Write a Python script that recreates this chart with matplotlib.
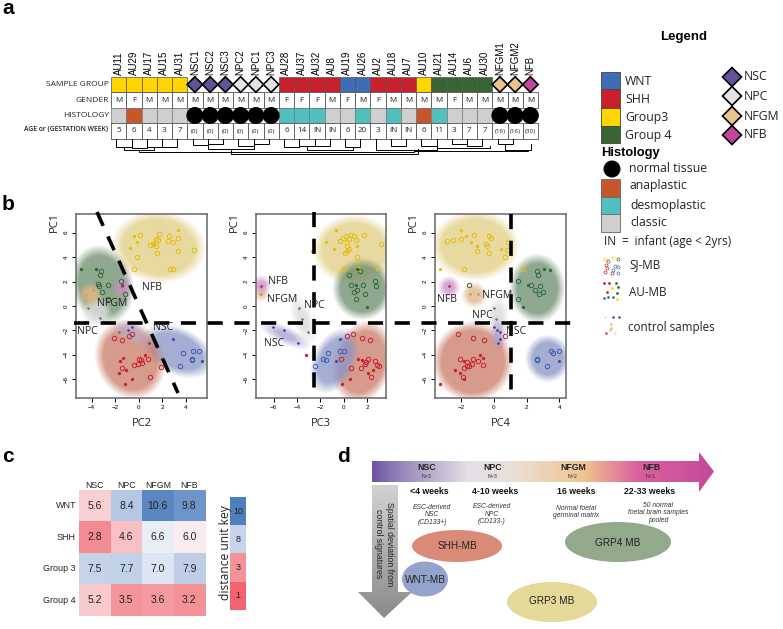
import matplotlib

matplotlib.use("Agg")
import matplotlib.pyplot as plt
import numpy as np
from matplotlib.colors import LinearSegmentedColormap, Normalize, to_rgb
from matplotlib.patches import Circle, Ellipse, Polygon, Rectangle

W, H = 783, 629
SANS = "Open Sans"
ARIAL = "Liberation Sans"

WNT = "#3F6DB5"
SHH = "#C9202E"
G3 = "#FFD500"
G4 = "#376533"
NSC = "#64519A"
NPC = "#E4E2E8"
NFGM = "#E8C38E"
NFB = "#C3469E"
GROUP_COLORS = {"W": WNT, "S": SHH, "3": G3, "4": G4, "nsc": NSC, "npc": NPC, "gm": NFGM, "fb": NFB}
HIST_COLORS = {"a": "#C8562A", "d": "#52BFBF", "c": "#CFCFCF"}

# panel a
samples = ["AU11", "AU29", "AU17", "AU15", "AU31", "NSC1", "NSC2", "NSC3", "NPC2", "NPC1", "NPC3",
           "AU28", "AU37", "AU32", "AU8", "AU19", "AU26", "AU2", "AU18", "AU7", "AU10", "AU21",
           "AU14", "AU6", "AU30", "NFGM1", "NFGM2", "NFB"]
groups = ["3", "3", "3", "3", "3", "nsc", "nsc", "nsc", "npc", "npc", "npc",
          "S", "S", "S", "S", "W", "W", "S", "S", "S", "3", "4", "4", "4", "4", "gm", "gm", "fb"]
genders = list("MFMMMMMMMMMFFFMFMFMMMMFMMMMM")
histology = ["c", "a", "c", "c", "c", "n", "n", "n", "n", "n", "n",
             "d", "d", "d", "c", "c", "d", "c", "d", "c", "a", "d", "c", "c", "c", "n", "n", "n"]
ages = ["5", "6", "4", "3", "7", "(0)", "(0)", "(0)", "(0)", "(0)", "(0)",
        "6", "14", "IN", "IN", "6", "20", "3", "IN", "IN", "6", "11", "3", "7", "7", "(16)", "(16)", "(30)"]
# left column, right column, bottom of the legs, height of the join
tree = [(0, 1, 139, 147), (1, 2, 139, 148), (2, 3, 139, 147), (3, 4, 139, 147),
        (0.5, 2.5, 148, 150), (1.5, 19.5, 150, 152),
        (5, 6, 139, 145), (6, 7, 139, 144), (8, 9, 139, 146), (9, 10, 139, 144),
        (6, 9, 146, 149), (7.5, 19.8, 149, 154),
        (11, 12, 139, 147), (12, 13, 139, 146), (13, 14, 139, 146), (15, 16, 139, 147),
        (12.5, 15.5, 147, 150), (17, 21, 139, 150), (18, 19, 139, 146),
        (20, 21, 139, 146), (21, 24.5, 146, 148), (22, 23, 139, 144), (23, 24, 139, 146),
        (19.5, 27, 150, 151), (25, 26, 139, 144), (25.5, 27.2, 144, 150)]

# panel b: x values for PC2, PC3, PC4 and shared-style PC1 values
sj_wnt = {"pc2": [3.8, 4.6, 5.1, 4.5, 4.55, 3.5], "pc3": [-1.35, -0.3, 0, -1.8, -1.55, -2.45],
          "pc4": [3.6, 3.5, 4.0, 2.6, 2.65, 3.25], "pc1": [-3.85, -3.65, -3.7, -4.3, -4.45, -4.9]}
au_wnt = {"pc2": [2.9, 5.35], "pc3": [-0.35, -0.7], "pc4": [0.35, 4.0], "pc1": [-2.7, -4.5]}
sj_shh = [
    ([-2.1, -1.4, -0.85, -0.55, 0.05, 0.2, -0.1, -0.4, 0.25, -1.45, 0.75, 0.95, 1.9],
     [-2.6, -2.8, -2.45, -2.3, -4.35, -4.45, -4.75, -4.8, -4.7, -5.05, -4.35, -5.8, -5.0]),
    ([0.8, 0.3, 1.55, 2.2, -0.25, 2.1, 1.9, 1.8, 2.7, 2.85, 3.0, 0.65, 1.5, 2.35],
     [-2.3, -2.45, -2.6, -2.8, -4.35, -4.35, -4.55, -4.75, -4.5, -4.8, -4.9, -5.05, -5.1, -5.8]),
    ([-2.2, -1.3, -0.6, 0.7, -2.05, -1.65, -1.3, -0.95, -1.85, -1.5, -1.65, -1.35, -0.65, -1.9],
     [-2.3, -2.6, -2.8, -2.45, -4.35, -4.6, -4.35, -4.5, -5.1, -4.95, -4.9, -4.75, -4.8, -5.8]),
]
au_shh = [
    ([-1.35, -1.6, -1.1, -1.7, -0.55, -1.15, 0.55], [-4.25, -4.5, -5.2, -5.45, -5.95, -6.4, -4.0]),
    ([-3.2, 1.25, 1.55, 2.1, 2.45, 0.5, -0.15], [-4.0, -4.3, -4.45, -5.45, -5.2, -5.95, -6.4]),
    ([-0.85, -0.65, -1.85, -2.4, -2.1, -1.8, -3.3], [-4.0, -4.25, -4.5, -5.2, -5.45, -5.95, -6.4]),
]
sj_g3 = [
    ([0.1, 1.7, 2.6, 3.3, 1.45, 1.65, 2.5, 2.9, 1.2, 0.95, 1.5, 3.3, 4.7, 1.55, -0.15, -0.4, 2.65, 2.9],
     [5.8, 5.9, 5.7, 5.6, 5.45, 5.4, 5.3, 5.2, 5.05, 5.0, 4.9, 4.5, 4.6, 4.35, 4.05, 3.0, 3.0, 3.05]),
    ([-0.35, -0.1, 0.15, 0.65, 0.85, 1.75, 0.4, 1.0, 0.3, 0.25, 0.4, 0.3, 0.1, 1.1, 3.15, 0, 1.2],
     [5.3, 5.55, 5.7, 5.85, 5.75, 5.8, 5.45, 5.4, 5.2, 4.95, 4.65, 4.5, 4.35, 4.05, 5.05, 3.05, 3.0]),
    ([-2.85, -2.5, -2.0, -1.2, -0.3, -0.15, -0.5, -0.4, -1.05, -0.3, 0.85, 0.8, 0.7, -1.85, 1.8],
     [5.3, 5.4, 5.45, 5.8, 5.7, 5.6, 5.1, 4.95, 4.5, 4.35, 5.25, 4.6, 4.05, 3.05, 3.0]),
]
au_g3 = [
    ([-0.4, 3.35, -0.15, -0.75, 1.3], [5.75, 6.2, 5.25, 4.75, 5.05]),
    ([-0.7, -1.5, -0.85, 1.15, -2.7, 2.8], [6.2, 5.25, 4.7, 4.95, 4.5, 3.0]),
    ([-2.0, -1.7, -1.4, -1.05, 0.45, -3.3], [6.2, 5.75, 5.25, 4.95, 4.7, 3.0]),
]
sj_g4 = [
    ([-3.2, -3.3, -3.5, -3.4, -2.6, -3.15, -1.5, -1.2, -2.65],
     [2.9, 2.55, 1.8, 1.6, 1.7, 1.15, 2.05, 0.95, 0.6]),
    ([0.45, 1.4, 0.65, 1.6, 1.1, 0.9, 2.7, 2.75, 1.8, 1.05],
     [2.55, 2.9, 1.7, 1.75, 1.3, 1.15, 2.05, 1.6, 0.95, 0.55]),
    ([2.6, 2.7, 1.45, 2.25, 2.8, 2.5, 3.0, 2.75, 1.45, -1.55],
     [2.9, 2.55, 2.05, 1.75, 1.6, 1.3, 1.15, 0.95, 0.55, 1.7]),
]
au_g4 = [
    ([-4.9, -3.6, -1.4], [3.0, 3.05, 1.75]),
    ([1.15, 1.05, 1.95], [3.0, 1.75, -0.1]),
    ([3.05, 3.4, 2.05, 1.8], [3.0, 2.95, 1.75, -0.1]),
]
ctrl_nsc = [
    ([-0.95, -0.6, 0.9], [-1.95, -1.75, -3.0]),
    ([-6.05, -5.15, -3.95], [-1.75, -1.95, -3.0]),
    ([0, 0.2, 0.25, 0.35], [-1.75, -1.95, -3.0, -2.1]),
]
ctrl_npc = [
    ([-3.3, -4.3, -1.7], [-1.0, -0.15, -2.1]),
    ([-3.85, -3.55, -3.1], [-0.15, -1.05, -2.1]),
    ([0, 0.1], [-0.15, -1.05]),
]
ctrl_gm = [([-4.45, -3.9], [0.9, 1.3]), ([-7.2, -7.05], [0.95, 1.0]), ([-1.45, -0.95], [0.95, 0.95])]
ctrl_fb = [([-1.4], [1.65]), ([-7.05], [1.65]), ([-2.75], [1.65])]
pc_names = ["PC2", "PC3", "PC4"]
pc_xticks = [[-4, -2, 0, 2, 4], [-6, -4, -2, 0, 2], [-2, 0, 2, 4]]
pc_xlims = [(-5.33, 5.8), (-7.5, 3.6), (-3.6, 4.4)]
pc_yticks = [-6, -4, -2, 0, 2, 4, 6]

# panel c
hm_cols = ["NSC", "NPC", "NFGM", "NFB"]
hm_rows = ["WNT", "SHH", "Group 3", "Group 4"]
hm_values = np.array([[5.6, 8.4, 10.6, 9.8],
                      [2.8, 4.6, 6.6, 6.0],
                      [7.5, 7.7, 7.0, 7.9],
                      [5.2, 3.5, 3.6, 3.2]])
key_values = [10, 8, 3, 1]
key_colors = ["#4F7FBF", "#C5D4EA", "#F4929A", "#F1636E"]

# panel d
stage_names = ["NSC", "NPC", "NFGM", "NFB"]
stage_counts = ["N=3", "N=3", "N=2", "N=1"]
stage_weeks = ["<4 weeks", "4-10 weeks", "16 weeks", "22-33 weeks"]
stage_notes = ["ESC-derived\nNSC\n(CD133+)", "ESC-derived\nNPC\n(CD133-)",
               "Normal foetal\ngerminal matrix", "50 normal\nfoetal brain samples\npooled"]

fig = plt.figure(figsize=(W / 100, H / 100), dpi=100, facecolor="white")


def px_axes(left, top, right, bottom, **kw):
    return fig.add_axes([left / W, 1 - bottom / H, (right - left) / W, (bottom - top) / H], **kw)


ov = fig.add_axes([0, 0, 1, 1], zorder=5)
ov.set_xlim(0, W)
ov.set_ylim(H, 0)
ov.axis("off")
ov.patch.set_alpha(0)


def label(x, y, s, size=7, family=SANS, ha="center", va="center", **kw):
    return ov.text(x, y, s, fontsize=size, family=family, ha=ha, va=va, **kw)


def diamond(x, y, r, color, lw=1.2):
    ov.add_patch(Polygon([(x - r, y), (x, y - r), (x + r, y), (x, y + r)], closed=True,
                         facecolor=color, edgecolor="black", lw=lw, zorder=3))


for txt, x, y in [("a", 8, 8), ("b", 8, 204), ("c", 8, 457), ("d", 344, 456)]:
    label(x, y, txt, size=15, family=ARIAL, weight="bold")

# panel a ------------------------------------------------------------------
X0, CW = 111, 15.25
ROWS = [77, 92, 108, 123, 139]
for name, y in zip(["SAMPLE GROUP", "GENDER", "HISTOLOGY"], [85, 100, 115.5]):
    label(109, y, name, size=6, ha="right", color="#222222")
label(108, 130, "AGE or (GESTATION WEEK)", size=4.9, ha="right", weight="semibold", color="#222222")

for i, name in enumerate(samples):
    x = X0 + CW * i
    cx = x + CW / 2
    label(cx, 75, name, size=7, family=ARIAL, rotation=90, va="bottom")
    if groups[i] in ("nsc", "npc", "gm", "fb"):
        diamond(cx, 84.5, 7.8, GROUP_COLORS[groups[i]])
    else:
        ov.add_patch(Rectangle((x, ROWS[0]), CW, ROWS[1] - ROWS[0], facecolor=GROUP_COLORS[groups[i]],
                               edgecolor="#555555", lw=0.5))
    ov.add_patch(Rectangle((x, ROWS[1]), CW, ROWS[2] - ROWS[1], facecolor="white", edgecolor="#555555", lw=0.6))
    label(cx, 100, genders[i], size=5.8, color="#222222")
    if histology[i] == "n":
        ov.add_patch(Circle((cx, 115.5), 7.8, color="black", zorder=3))
    else:
        ov.add_patch(Rectangle((x, ROWS[2]), CW, ROWS[3] - ROWS[2], facecolor=HIST_COLORS[histology[i]],
                               edgecolor="#777777", lw=0.5))
    ov.add_patch(Rectangle((x, ROWS[3]), CW, ROWS[4] - ROWS[3], facecolor="white", edgecolor="#555555", lw=0.6))
    label(cx, 131, ages[i], size=4.5 if "(" in ages[i] else 5.8, color="#222222")

for a, b, y0, y1 in tree:
    xa, xb = X0 + CW * (a + 0.35), X0 + CW * (b + 0.35)
    ov.plot([xa, xa, xb, xb], [y0, y1, y1, y0], color="black", lw=0.7, solid_joinstyle="miter")

# legend -------------------------------------------------------------------
label(684, 37, "Legend", size=9.5, family=ARIAL, weight="bold")
for name, color, top, bot in [("WNT", WNT, 72, 89), ("SHH", SHH, 89, 108), ("Group3", G3, 108, 126), ("Group 4", G4, 126, 143)]:
    ov.add_patch(Rectangle((601, top), 19, bot - top, facecolor=color, edgecolor="#444444", lw=0.6))
    label(625, (top + bot) / 2 + 1, name, size=8.8, ha="left", color="#222222")
for name, color, y in [("NSC", NSC, 77), ("NPC", NPC, 96), ("NFGM", NFGM, 116), ("NFB", NFB, 135)]:
    diamond(732, y, 9.5, color)
    label(744, y, name, size=8.8, ha="left", color="#222222")
label(601, 153, "Histology", size=9.4, family=ARIAL, weight="bold", ha="left")
ov.add_patch(Circle((612, 169), 7.8, color="black"))
label(629, 168, "normal tissue", size=8.8, ha="left", color="#222222")
for name, key, top, bot, ty in [("anaplastic", "a", 179, 197, 186), ("desmoplastic", "d", 197, 214, 205), ("classic", "c", 214, 232, 222)]:
    ov.add_patch(Rectangle((601, top), 19, bot - top, facecolor=HIST_COLORS[key], edgecolor="#666666", lw=0.6))
    label(630, ty, name, size=8.8, ha="left", color="#222222")
label(604, 242, "IN  =  infant (age < 2yrs)", size=8.4, ha="left", color="#222222")
label(629, 265, "SJ-MB", size=8.4, ha="left", color="#222222")
label(629, 292, "AU-MB", size=8.4, ha="left", color="#222222")
label(628, 327, "control samples", size=8.4, ha="left", color="#222222")

icon_sj = [(605, 259, G3), (608, 261, G4), (613, 258, G3), (618, 259, G4), (606, 265, SHH), (607, 268, SHH),
           (615, 266, WNT), (618, 267, WNT), (613, 270, WNT), (605, 272, SHH), (612, 273, SHH), (618, 273, WNT)]
icon_au = [(604, 283, SHH), (609, 283, SHH), (616, 283, G4), (618, 287, G4), (612, 288, G3), (607, 292, SHH),
           (617, 293, G4), (604, 298, WNT), (608, 297, WNT), (613, 297, WNT), (617, 299, G3)]
icon_ct = [(605, 317, NPC), (613, 317, NSC), (619, 317, NSC), (611, 324, NFGM), (611, 328, NFGM),
           (610, 330, NFGM), (606, 333, NFB), (615, 333, NPC)]
for x, y, c in icon_sj:
    ov.plot(x, y, "o", ms=2.2, mfc="none", mec=c, mew=0.5)
for x, y, c in icon_au:
    ov.plot(x, y, "o", ms=2, color=c, mew=0)
for x, y, c in icon_ct:
    ov.plot(x, y, "D", ms=1.7, color=c, mew=0)

# panel b ------------------------------------------------------------------
PANELS = [(76, 207), (256, 386), (435, 566)]
TOP, BOTTOM = 214, 398
YLIM = (-7.53, 7.53)
BLOB_RED = "#CB7F6B"
BLOB_BLUE = "#8B97C6"
BLOB_YEL = "#E2CF86"
BLOB_GRN = "#6F8F70"
# centre (data), width and height (px), angle, colour
blobs = [
    [(1.7, 4.85, 84, 64, -5, BLOB_YEL), (-3.1, 1.75, 54, 70, 15, BLOB_GRN), (3.3, -3.7, 66, 40, -25, BLOB_BLUE),
     (-0.75, -4.4, 60, 72, 25, BLOB_RED), (-0.6, -2.2, 28, 14, -30, "#B5AED3"), (-3.6, -0.5, 24, 24, 0, "#E0E0E0"),
     (-4.1, 0.95, 18, 18, 0, "#E5B985"), (-1.35, 1.5, 14, 18, 0, "#D08FC4")],
    [(0.9, 4.6, 74, 62, 0, BLOB_YEL), (1.6, 1.4, 52, 54, 0, BLOB_GRN), (1.6, -4.6, 52, 74, -15, BLOB_RED),
     (-0.8, -4.5, 36, 58, -25, BLOB_BLUE), (-5.0, -2.4, 38, 12, -25, "#A9A0CE"), (-3.5, -1.1, 14, 38, 20, "#D9D9D9"),
     (-7.05, 1.0, 10, 10, 0, "#E5B985"), (-7.05, 1.7, 14, 14, 0, "#D08FC4")],
    [(-1.15, 4.95, 78, 62, 0, BLOB_YEL), (2.65, 1.45, 48, 60, 0, BLOB_GRN), (3.3, -4.3, 38, 40, 0, BLOB_BLUE),
     (-1.3, -4.55, 72, 72, 0, BLOB_RED), (-1.2, 0.9, 20, 20, 0, "#DDB78E"), (-2.75, 1.55, 16, 16, 0, "#D08FC4"),
     (0.25, -1.0, 16, 32, 0, "#D9D9D9"), (0.25, -2.4, 10, 22, 0, "#A9A0CE")],
]

for k, (left, right) in enumerate(PANELS):
    ax = px_axes(left, TOP, right, BOTTOM)
    xlim = pc_xlims[k]
    sx = (right - left) / (xlim[1] - xlim[0])
    sy = (BOTTOM - TOP) / (YLIM[1] - YLIM[0])
    gx, gy = np.meshgrid(np.linspace(xlim[0], xlim[1], 300), np.linspace(YLIM[1], YLIM[0], 400))
    for cx, cy, w, h, ang, col in blobs[k]:
        t = np.deg2rad(ang)
        dx, dy = (gx - cx) * sx, (gy - cy) * sy
        u = (dx * np.cos(t) + dy * np.sin(t)) / (w / 2)
        v = (-dx * np.sin(t) + dy * np.cos(t)) / (h / 2)
        r = np.hypot(u, v)
        soft = 12 / min(w, h) + 0.1
        alpha = np.clip((1.0 - r) / soft + 0.5, 0, 1) * 0.78
        rgba = np.zeros(gx.shape + (4,))
        rgba[..., :3] = to_rgb(col)
        rgba[..., 3] = alpha
        ax.imshow(rgba, extent=(xlim[0], xlim[1], YLIM[0], YLIM[1]), aspect="auto", zorder=1, interpolation="bilinear")
    sj_x_key = ["pc2", "pc3", "pc4"][k]
    ax.plot(sj_wnt[sj_x_key], sj_wnt["pc1"], "o", ms=3.2, mfc="none", mec="#3B5FAF", mew=0.7, zorder=3, clip_on=False)
    ax.plot(au_wnt[sj_x_key], au_wnt["pc1"], "o", ms=2.2, color="#3B4F9F", mew=0, zorder=3)
    for sj, au, col in [(sj_shh, au_shh, "#CC2030"), (sj_g3, au_g3, "#E5BE10"), (sj_g4, au_g4, "#2F6B35")]:
        ax.plot(sj[k][0], sj[k][1], "o", ms=3.2, mfc="none", mec=col, mew=0.7, zorder=3)
        ax.plot(au[k][0], au[k][1], "o", ms=2.4, color=col, mew=0, zorder=3)
    ax.plot(ctrl_nsc[k][0], ctrl_nsc[k][1], "D", ms=1.7, color="#4B3F8F", mew=0, zorder=3)
    ax.plot(ctrl_npc[k][0], ctrl_npc[k][1], "D", ms=1.7, color="#777777", mew=0, zorder=3)
    ax.plot(ctrl_gm[k][0], ctrl_gm[k][1], "D", ms=1.7, color="#C89B60", mew=0, zorder=3)
    ax.plot(ctrl_fb[k][0], ctrl_fb[k][1], "D", ms=1.9, color="#B0308E", mew=0, zorder=3)
    ax.set_xlim(*xlim)
    ax.set_ylim(*YLIM)
    ax.set_xticks(pc_xticks[k])
    ax.set_xticklabels([str(v).replace("-", "\u2212") for v in pc_xticks[k]], family=ARIAL, fontsize=4.5)
    ax.set_yticks(pc_yticks)
    ax.set_yticklabels([str(v).replace("-", "\u2212") for v in pc_yticks], family=ARIAL, fontsize=4.5,
                       rotation=90, va="center")
    ax.tick_params(length=3, width=0.7, pad=2)
    for s in ax.spines.values():
        s.set_linewidth(1.1)
        s.set_color("#666666")
    label((left + right) / 2, 423, pc_names[k], size=8, color="#222222")
    label(left - 22, 222, "PC1", size=8, rotation=90, color="#222222")

dash = dict(color="black", lw=2.6, linestyle=(0, (4.2, 3.2)), solid_capstyle="butt")
ov.plot([74, 571], [323, 323], **dash)
ov.plot([97, 178], [212, 393], **dash)
ov.plot([314, 314], [212, 398], **dash)
ov.plot([511, 511], [214, 398], **dash)

for txt, x, y in [("NFB", 142, 287), ("NFGM", 97, 304), ("NPC", 77, 332), ("NSC", 153, 328),
                  ("NFB", 268, 281), ("NFGM", 267, 299), ("NPC", 304, 306), ("NSC", 264, 343),
                  ("NFB", 437, 300), ("NFGM", 482, 296), ("NPC", 472, 315), ("NSC", 506, 332)]:
    label(x, y, txt, size=7.6, ha="left", color="#222222")

# panel c ------------------------------------------------------------------
stops = [(2.8, "#F38B92"), (3.5, "#F4969C"), (4.6, "#F9C0C5"), (5.6, "#F8D0D4"), (6.0, "#FBEBEE"),
         (6.6, "#E9EEF7"), (7.0, "#DDE5F2"), (7.5, "#C5D4EA"), (8.4, "#B5C8E3"), (9.8, "#6E96CC"), (10.6, "#5B86C0")]
cmap = LinearSegmentedColormap.from_list("dist", [((v - 2.8) / 7.8, c) for v, c in stops])
hm = px_axes(79, 490, 205, 616)
hm.imshow(hm_values, cmap=cmap, norm=Normalize(2.8, 10.6), aspect="auto")
hm.axis("off")
for r, row in enumerate(hm_rows):
    y = 490 + 31.5 * (r + 0.5)
    label(76, y, row, size=6.5, family=ARIAL, ha="right", color="#222222")
    for c, col in enumerate(hm_cols):
        label(79 + 31.5 * (c + 0.5), y, f"{hm_values[r, c]:.1f}", size=7.5, family=ARIAL, color="#222222")
for c, col in enumerate(hm_cols):
    label(79 + 31.5 * (c + 0.5), 485, col, size=6.3, family=ARIAL, color="#222222")

key = px_axes(230, 497, 246, 610)
key.imshow(np.arange(4).reshape(4, 1), cmap=LinearSegmentedColormap.from_list("key", key_colors, N=4), aspect="auto")
key.axis("off")
for i, v in enumerate(key_values):
    label(238, 497 + 113 / 4 * (i + 0.5), str(v), size=6.5, family=ARIAL, color="#222222")
label(225, 553, "distance unit key", size=8.7, rotation=90, color="#222222")

# panel d ------------------------------------------------------------------
grad = LinearSegmentedColormap.from_list("stage", [(0, "#6F55A3"), (0.09, "#9A8ABD"), (0.28, "#E3E0E8"),
                                                   (0.42, "#EADFD5"), (0.62, "#F0C48E"), (0.78, "#D9609E"),
                                                   (1, "#C54A9C")])
im = ov.imshow(np.linspace(0, 1, 400).reshape(1, -1), cmap=grad, extent=(372, 714, 492, 452), aspect="auto", zorder=1)
im.set_clip_path(Polygon([(372, 461), (699, 461), (699, 452), (714, 471.5), (699, 492), (699, 482), (372, 482)],
                         transform=ov.transData))
im2 = ov.imshow(np.linspace(0, 1, 200).reshape(-1, 1), cmap=LinearSegmentedColormap.from_list("g", ["#D2D2D2", "#8A8A8A"]),
                extent=(358, 412, 618, 485), aspect="auto", zorder=1)
im2.set_clip_path(Polygon([(372, 485), (398, 485), (398, 592), (412, 592), (384, 618), (358, 592), (372, 592)],
                          transform=ov.transData))
ov.set_xlim(0, W)
ov.set_ylim(H, 0)

for i, x in enumerate([427, 493, 573, 651]):
    label(x, 468, stage_names[i], size=6.3, family=ARIAL, weight="bold", color="#222222")
    label(x, 477, stage_counts[i], size=3.8, family=ARIAL, color="#333333")
for txt, x in zip(stage_weeks, [429, 495, 576, 650]):
    label(x, 492, txt, size=6.3, family=ARIAL, weight="bold", color="#111111")
for txt, x, y in zip(stage_notes, [432, 492, 576, 658], [515, 514, 512, 513]):
    label(x, y, txt, size=4.9, family=ARIAL, style="italic", color="#333333", linespacing=1.15)
label(384, 544, "Spatial deviation from\ncontrol signatures", size=6.3, family=ARIAL, rotation=-90,
      color="#222222", linespacing=1.3)

for txt, x, y, w, h, col, ty in [("SHH-MB", 457, 546, 90, 32, "#D98B78", 546), ("WNT-MB", 425, 579, 46, 35, "#94A3CC", 580),
                                 ("GRP4 MB", 618, 542, 106, 40, "#92A98C", 543), ("GRP3 MB", 552, 602, 90, 40, "#E5D99A", 601)]:
    ov.add_patch(Ellipse((x, y), w, h, facecolor=col, edgecolor="none", zorder=2))
    label(x, ty, txt, size=7.2, family=ARIAL, color="#222222", zorder=4)

fig.savefig("out.png", dpi=100)
